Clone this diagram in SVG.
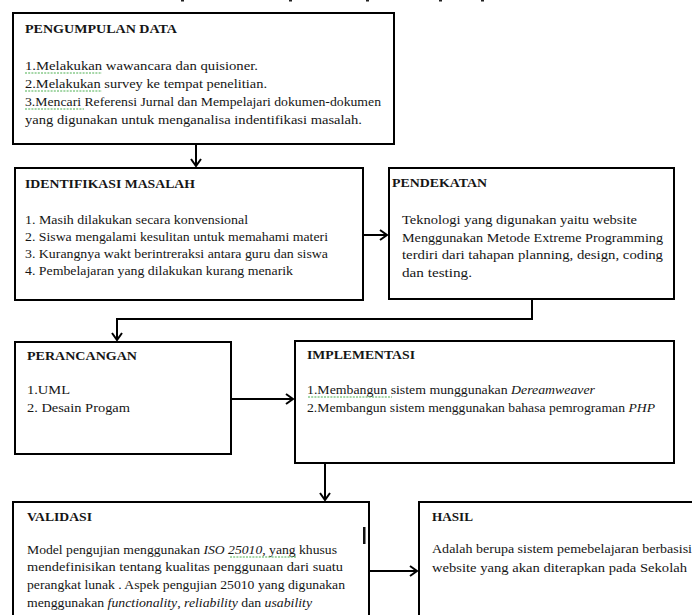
<svg xmlns="http://www.w3.org/2000/svg" width="692" height="615" viewBox="0 0 692 615">
<style>
.box{fill:#fff;stroke:#000;stroke-width:2}
text{font-family:"Liberation Serif","Times New Roman",serif;font-size:13px;fill:#151515}
.t{font-weight:bold}
.i{font-style:italic}
.c{fill:none;stroke:#000;stroke-width:2}
.sp{stroke:#4caf50;stroke-width:1.2;stroke-dasharray:2 1.2}
</style>
<defs>
<marker id="ah" markerUnits="userSpaceOnUse" markerWidth="14" markerHeight="14" viewBox="-9 -7 11 14" refX="0" refY="0" orient="auto">
<path d="M-7,-5 L0,0 L-7,5" fill="none" stroke="#000" stroke-width="2"/>
</marker>
</defs>
<rect width="692" height="615" fill="#fff"/>
<g fill="#222">
<rect x="181" y="0" width="3" height="1.5"/>
<rect x="289" y="0" width="3" height="1.5"/>
<rect x="366" y="0" width="3" height="1.5"/>
<rect x="439" y="0" width="3" height="1.5"/>
<rect x="481" y="0" width="3" height="1.5"/>
</g>
<g id="connectors">
<path class="c" d="M196,144 V166" marker-end="url(#ah)"/>
<path class="c" d="M363,235 H387" marker-end="url(#ah)"/>
<path class="c" d="M532,300 V319 H117 V340" marker-end="url(#ah)"/>
<path class="c" d="M231,399 H293" marker-end="url(#ah)"/>
<path class="c" d="M325,463 V500" marker-end="url(#ah)"/>
<path class="c" d="M369,571 H417" marker-end="url(#ah)"/>
</g>
<g id="pengumpulan">
<rect class="box" x="13" y="13" width="381" height="131"/>
<text class="t" x="25" y="33" textLength="152" lengthAdjust="spacingAndGlyphs">PENGUMPULAN DATA</text>
<text x="25" y="70" textLength="233" lengthAdjust="spacingAndGlyphs">1.Melakukan wawancara dan quisioner.</text>
<text x="25" y="88" textLength="242" lengthAdjust="spacingAndGlyphs">2.Melakukan survey ke tempat penelitian.</text>
<text x="25" y="106" textLength="356" lengthAdjust="spacingAndGlyphs">3.Mencari Referensi Jurnal dan Mempelajari dokumen-dokumen</text>
<text x="25" y="124" textLength="337" lengthAdjust="spacingAndGlyphs">yang digunakan untuk menganalisa indentifikasi masalah.</text>
<line class="sp" x1="25" y1="73" x2="102" y2="73"/>
<line class="sp" x1="25" y1="91" x2="102" y2="91"/>
<line class="sp" x1="25" y1="109" x2="84" y2="109"/>
</g>
<g id="identifikasi">
<rect class="box" x="15" y="168" width="348" height="132"/>
<text class="t" x="25" y="188" textLength="170" lengthAdjust="spacingAndGlyphs">IDENTIFIKASI MASALAH</text>
<text x="25" y="224" textLength="223" lengthAdjust="spacingAndGlyphs">1. Masih dilakukan secara konvensional</text>
<text x="25" y="241" textLength="303" lengthAdjust="spacingAndGlyphs">2. Siswa mengalami kesulitan untuk memahami materi</text>
<text x="25" y="258" textLength="303" lengthAdjust="spacingAndGlyphs">3. Kurangnya wakt berintreraksi antara guru dan siswa</text>
<text x="25" y="275" textLength="268" lengthAdjust="spacingAndGlyphs">4. Pembelajaran yang dilakukan kurang menarik</text>
</g>
<g id="pendekatan">
<rect class="box" x="389" y="168" width="285" height="131"/>
<text class="t" x="392" y="187" textLength="95" lengthAdjust="spacingAndGlyphs">PENDEKATAN</text>
<text x="402" y="224" textLength="235" lengthAdjust="spacingAndGlyphs">Teknologi yang digunakan yaitu website</text>
<text x="402" y="242" textLength="261" lengthAdjust="spacingAndGlyphs">Menggunakan Metode Extreme Programming</text>
<text x="402" y="259" textLength="261" lengthAdjust="spacingAndGlyphs">terdiri dari tahapan planning, design, coding</text>
<text x="402" y="277" textLength="70" lengthAdjust="spacingAndGlyphs">dan testing.</text>
</g>
<g id="perancangan">
<rect class="box" x="15" y="342" width="216" height="112"/>
<text class="t" x="27" y="360" textLength="110" lengthAdjust="spacingAndGlyphs">PERANCANGAN</text>
<text x="27" y="394" textLength="43" lengthAdjust="spacingAndGlyphs">1.UML</text>
<text x="27" y="412" textLength="103" lengthAdjust="spacingAndGlyphs">2. Desain Progam</text>
</g>
<g id="implementasi">
<rect class="box" x="295" y="341" width="379" height="122"/>
<text class="t" x="307" y="359" textLength="108" lengthAdjust="spacingAndGlyphs">IMPLEMENTASI</text>
<text x="307" y="394" textLength="288" lengthAdjust="spacingAndGlyphs">1.Membangun sistem munggunakan <tspan class="i">Dereamweaver</tspan></text>
<text x="307" y="412" textLength="348" lengthAdjust="spacingAndGlyphs">2.Membangun sistem menggunakan bahasa pemrograman <tspan class="i">PHP</tspan></text>
<line class="sp" x1="308" y1="397" x2="392" y2="397"/>
</g>
<g id="validasi">
<rect class="box" x="13" y="502" width="356" height="120"/>
<text class="t" x="27" y="521" textLength="65" lengthAdjust="spacingAndGlyphs">VALIDASI</text>
<rect x="363" y="527" width="2.5" height="17" fill="#111"/>
<text x="27" y="554" textLength="310" lengthAdjust="spacingAndGlyphs">Model pengujian menggunakan <tspan class="i">ISO 25010</tspan>, yang khusus</text>
<text x="27" y="571" textLength="316" lengthAdjust="spacingAndGlyphs">mendefinisikan tentang kualitas penggunaan dari suatu</text>
<text x="27" y="589" textLength="318" lengthAdjust="spacingAndGlyphs">perangkat lunak . Aspek pengujian 25010 yang digunakan</text>
<text x="27" y="607" textLength="285" lengthAdjust="spacingAndGlyphs">menggunakan <tspan class="i">functionality</tspan>, <tspan class="i">reliability</tspan> dan <tspan class="i">usability</tspan></text>
<line class="sp" x1="230" y1="557" x2="297" y2="557"/>
</g>
<g id="hasil">
<rect class="box" x="419" y="502" width="290" height="120"/>
<text class="t" x="432" y="521" textLength="41" lengthAdjust="spacingAndGlyphs">HASIL</text>
<text x="432" y="553" textLength="260" lengthAdjust="spacingAndGlyphs">Adalah berupa sistem pemebelajaran berbasisi</text>
<text x="432" y="572" textLength="255" lengthAdjust="spacingAndGlyphs">website yang akan diterapkan pada Sekolah</text>
</g>
</svg>
